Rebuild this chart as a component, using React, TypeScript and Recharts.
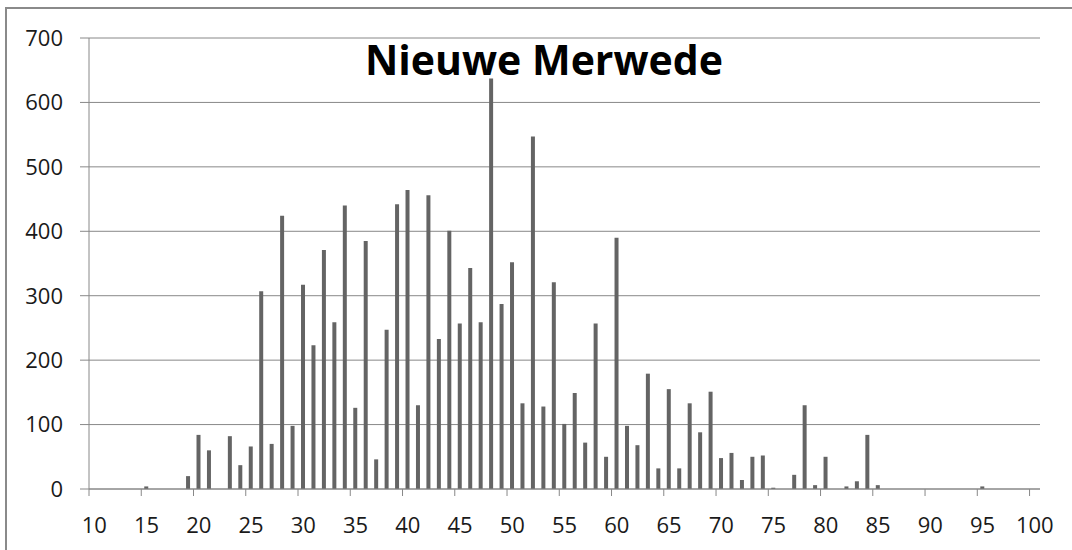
import React from "react";
import { BarChart, Bar, XAxis, YAxis, CartesianGrid } from "recharts";

const lengths = [
  10, 11, 12, 13, 14, 15, 16, 17, 18, 19,
  20, 21, 22, 23, 24, 25, 26, 27, 28, 29,
  30, 31, 32, 33, 34, 35, 36, 37, 38, 39,
  40, 41, 42, 43, 44, 45, 46, 47, 48, 49,
  50, 51, 52, 53, 54, 55, 56, 57, 58, 59,
  60, 61, 62, 63, 64, 65, 66, 67, 68, 69,
  70, 71, 72, 73, 74, 75, 76, 77, 78, 79,
  80, 81, 82, 83, 84, 85, 86, 87, 88, 89,
  90, 91, 92, 93, 94, 95, 96, 97, 98, 99,
  100,
];

const counts = [
  0, 0, 0, 0, 0, 4, 0, 0, 0, 20,
  84, 60, 0, 82, 37, 66, 307, 70, 424, 98,
  317, 223, 371, 259, 440, 126, 385, 46, 247, 442,
  464, 130, 456, 233, 401, 257, 343, 259, 637, 287,
  352, 133, 547, 128, 321, 101, 149, 72, 257, 50,
  390, 98, 68, 179, 32, 155, 32, 133, 88, 151,
  48, 56, 14, 50, 52, 2, 0, 22, 130, 6,
  50, 0, 4, 12, 84, 6, 0, 0, 0, 0,
  0, 0, 0, 0, 0, 4, 0, 0, 0, 0,
  0,
];

const yTicks = [0, 100, 200, 300, 400, 500, 600, 700];
const title = "Nieuwe Merwede";

const data = lengths.map((l, i) => ({ len: l, count: counts[i] }));

const FONT = "'Open Sans', 'Liberation Sans', sans-serif";
const AXIS = "#888888";

const XTick = (props: any) => {
  const { x, y, payload } = props;
  const off = payload && typeof payload.offset === "number" ? payload.offset : 5.2;
  return (
    <g>
      <line x1={x - off} y1={y} x2={x - off} y2={y + 7} stroke={AXIS} strokeWidth={1} />
      <text
        x={x}
        y={y + 35}
        textAnchor="middle"
        dominantBaseline="central"
        fontFamily={FONT}
        fontSize={22}
        fill="#1a1a1a"
      >
        {payload.value}
      </text>
    </g>
  );
};

export default function App() {
  return (
    <div
      style={{
        position: "absolute",
        left: 0,
        top: 0,
        width: 1072,
        height: 550,
        overflow: "hidden",
        background: "#ffffff",
      }}
    >
      <div
        style={{
          position: "absolute",
          left: 5,
          top: 7,
          width: 1200,
          height: 700,
          borderLeft: "2px solid #8a8a8a",
          borderTop: "2px solid #8a8a8a",
        }}
      />
      <div style={{ position: "absolute", left: 0, top: 0 }}>
        <BarChart
          width={1072}
          height={550}
          data={data}
          margin={{ top: 38, right: 32, bottom: 31, left: 0 }}
          barCategoryGap={0}
        >
          <CartesianGrid vertical={false} stroke={AXIS} strokeWidth={1} />
          <XAxis
            dataKey="len"
            type="category"
            interval={4}
            height={30}
            tickLine={false}
            tickSize={0}
            tickMargin={0}
            axisLine={{ stroke: AXIS, strokeWidth: 1 }}
            tick={<XTick />}
          />
          <YAxis
            width={89}
            domain={[0, 700]}
            ticks={yTicks}
            interval={0}
            tickSize={9}
            tickMargin={17}
            tickLine={{ stroke: AXIS }}
            axisLine={{ stroke: AXIS, strokeWidth: 1 }}
            tick={{ fontFamily: FONT, fontSize: 22, fill: "#1a1a1a" }}
          />
          <Bar dataKey="count" fill="#646464" barSize={4} isAnimationActive={false} />
        </BarChart>
      </div>
      <div
        style={{
          position: "absolute",
          left: 0,
          width: 1088,
          top: 34,
          textAlign: "center",
          fontFamily: FONT,
          fontWeight: 700,
          fontSize: 41,
          lineHeight: "50px",
          color: "#000",
        }}
      >
        {title}
      </div>
    </div>
  );
}
